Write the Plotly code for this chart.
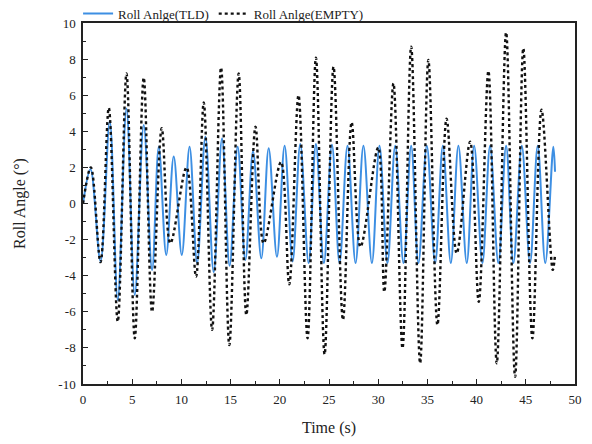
import plotly.graph_objects as go

# Extrema (time in s, roll angle in degrees)
tld_t = [0, 0.76, 1.78, 2.72, 3.53, 4.42, 5.26, 6.17, 7.02, 7.7, 8.46, 9.22, 10.04,
         10.83, 11.6, 12.44, 13.28, 14.13, 14.9, 15.72, 16.5, 17.28, 18.12, 18.87,
         19.71, 20.49, 21.3, 22.08, 22.93, 23.67, 24.48, 25.3, 26.07, 26.88, 27.7,
         28.5, 29.36, 30.13, 30.94, 31.73, 32.57, 33.35, 34.09, 34.94, 35.79, 36.57,
         37.38, 38.15, 39.0, 39.75, 40.59, 41.37, 42.21, 43.0, 43.74, 44.59, 45.43,
         46.21, 46.98, 47.8, 47.97]
tld_v = [0, 1.9, -3.2, 4.57, -5.35, 5.27, -5.07, 4.35, -3.68, 3.15, -2.85, 2.6, -2.85,
         3.15, -3.3, 3.7, -3.8, 3.6, -3.45, 3.15, -3.13, 2.9, -3.04, 3.06,
         -2.95, 3.2, -3.22, 3.3, -3.3, 3.3, -3.3, 3.25, -3.3, 3.2, -3.3,
         3.2, -3.3, 3.2, -3.3, 3.2, -3.3, 3.2, -3.3, 3.2, -3.3, 3.2,
         -3.3, 3.2, -3.3, 3.2, -3.3, 3.2, -3.3, 3.2, -3.3, 3.2, -3.3,
         3.2, -3.3, 3.15, 1.76]

empty_t = [0, 0.8, 1.78, 2.62, 3.53, 4.42, 5.26, 6.17, 7.02, 8.0, 8.88, 10.52, 11.49,
           12.27, 13.12, 14.03, 14.87, 15.82, 16.6, 17.53, 18.36, 20.12, 20.96, 21.9,
           22.82, 23.67, 24.55, 25.46, 26.42, 27.3, 28.2, 30.0, 30.62, 31.55, 32.47,
           33.35, 34.26, 35.1, 36.02, 36.95, 37.98, 39.34, 40.22, 41.2, 42.05, 43.0,
           43.91, 44.75, 45.67, 46.6, 47.74, 47.97]
empty_v = [0, 2.0, -3.25, 5.3, -6.55, 7.2, -7.47, 6.97, -6.0, 4.17, -2.2, 2.0, -4.05,
           5.6, -7.0, 7.53, -7.84, 7.2, -6.18, 4.26, -2.2, 2.3, -4.48, 6.0,
           -7.47, 8.08, -8.36, 7.58, -6.45, 4.5, -2.4, 3.1, -4.9, 6.66, -8.02,
           8.69, -8.85, 7.95, -6.73, 4.7, -2.76, 3.42, -5.45, 7.34, -8.85, 9.48,
           -9.6, 8.6, -7.47, 5.2, -3.68, -2.85]

x_ticks = [0, 5, 10, 15, 20, 25, 30, 35, 40, 45, 50]
y_ticks = [-10, -8, -6, -4, -2, 0, 2, 4, 6, 8, 10]

FONT = "Liberation Serif"

fig = go.Figure()
fig.add_trace(go.Scatter(
    x=tld_t, y=tld_v, mode="lines", name="Roll Anlge(TLD)",
    line=dict(color="#3d8fe3", width=2, shape="spline", smoothing=1.0),
))
fig.add_trace(go.Scatter(
    x=empty_t, y=empty_v, mode="lines", name="Roll Anlge(EMPTY)",
    line=dict(color="#111111", width=2.4, dash="dot", shape="spline", smoothing=1.0),
))

axis_common = dict(
    showgrid=False, zeroline=False, showline=True, linecolor="#222",
    linewidth=1.5, mirror=True, ticks="inside", ticklen=5, tickwidth=1.2,
    tickcolor="#222", tickfont=dict(family=FONT, size=13, color="#222"),
    ticklabelstandoff=3,
)
fig.update_xaxes(
    range=[0, 50], tickvals=x_ticks, ticktext=[str(v) for v in x_ticks],
    minor=dict(dtick=2.5, ticks="inside", ticklen=3, tickcolor="#222", showgrid=False),
    title=dict(text="Time (s)", font=dict(family=FONT, size=16, color="#222"), standoff=15),
    **axis_common,
)
fig.update_yaxes(
    range=[-10, 10], tickvals=y_ticks, ticktext=[str(v) for v in y_ticks],
    minor=dict(dtick=1, ticks="inside", ticklen=3, tickcolor="#222", showgrid=False),
    title=dict(text="Roll Angle (°)", font=dict(family=FONT, size=16, color="#222"), standoff=29),
    **axis_common,
)
fig.update_layout(
    width=584, height=436,
    margin=dict(l=75, r=17, t=15, b=60, autoexpand=False),
    paper_bgcolor="white", plot_bgcolor="white",
    font=dict(family=FONT, size=13, color="#222"),
    showlegend=True,
    legend=dict(orientation="h", x=-0.01, xanchor="left",
                y=0.987, yanchor="middle", yref="container",
                font=dict(family=FONT, size=13, color="#222"),
                itemwidth=30, tracegroupgap=0, bgcolor="rgba(0,0,0,0)"),
)
fig.write_html("out.html")
